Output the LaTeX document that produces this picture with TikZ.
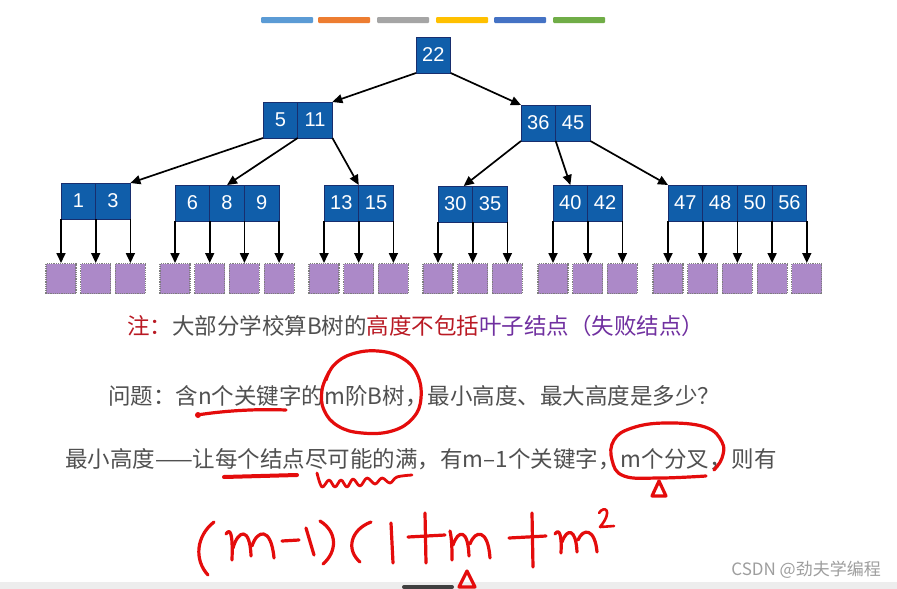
\documentclass[tikz,border=0pt]{standalone}
\usepackage{fontspec}
\usepackage{tikz}
\usetikzlibrary{arrows.meta, positioning}
\newfontfamily\cjk{Noto Sans CJK SC}
\newfontfamily\keyfont{Liberation Sans}
\definecolor{keyfill}{RGB}{16,94,170}
\definecolor{keyline}{RGB}{24,46,110}
\definecolor{leaffill}{RGB}{172,137,200}
\definecolor{leafline}{RGB}{125,125,125}
\definecolor{textcol}{RGB}{80,80,80}
\definecolor{notered}{RGB}{185,25,35}
\definecolor{notepurple}{RGB}{112,48,160}
\definecolor{inkcol}{RGB}{228,12,12}
\definecolor{barA}{RGB}{91,155,213}
\definecolor{barB}{RGB}{237,125,49}
\definecolor{barC}{RGB}{165,165,165}
\definecolor{barD}{RGB}{255,192,0}
\definecolor{barE}{RGB}{68,114,196}
\definecolor{barF}{RGB}{112,173,71}
\colorlet{markcol}{black!38}
\tikzset{
  keycell/.style={draw=keyline, fill=keyfill, text=white, line width=1pt,
    minimum width=34.7pt, minimum height=36pt, inner sep=0pt, outer sep=0pt,
    font=\keyfont\fontsize{20}{20}\selectfont},
  leaf/.style={draw=leafline, densely dotted, line width=1.2pt, fill=leaffill,
    minimum size=30pt, inner sep=0pt},
  arr/.style={-{Triangle[length=10pt, width=9pt]}, line width=1.7pt},
  txt/.style={font=\cjk\fontsize{22.5}{22.5}\selectfont, text=textcol,
    inner sep=0pt, anchor=west},
  ink/.style={draw=inkcol, line width=3.2pt, line cap=round, line join=round}
}

\begin{document}
\begin{tikzpicture}[x=1pt, y=-1pt, >=Stealth]

  % Page.
  \useasboundingbox (0,0) rectangle (897,589);
  \fill[white] (0,0) rectangle (897,589);
  \fill[black!7] (0,582) rectangle (897,589);
  \fill[black!75, rounded corners=2pt] (402,585) rectangle (454,589);

  % Colour bars on top.
  \foreach \col/\xa in {barA/261, barB/318, barC/377, barD/436, barE/494, barF/553}
    \fill[\col, rounded corners=1pt] (\xa,17) rectangle ++(52,6);

  % Root.
  \node[keycell, anchor=north west] (r) at (416,37) {22};

  % Second level.
  \node[keycell, anchor=north west] (a1) at (263,102) {5};
  \node[keycell, right=0pt of a1] (a2) {11};
  \node[keycell, anchor=north west] (b1) at (521,105) {36};
  \node[keycell, right=0pt of b1] (b2) {45};

  % Third level.
  \node[keycell, anchor=north west] (c1) at (61,183) {1};
  \node[keycell, right=0pt of c1] (c2) {3};
  \node[keycell, anchor=north west] (d1) at (175,185) {6};
  \node[keycell, right=0pt of d1] (d2) {8};
  \node[keycell, right=0pt of d2] (d3) {9};
  \node[keycell, anchor=north west] (e1) at (324,185) {13};
  \node[keycell, right=0pt of e1] (e2) {15};
  \node[keycell, anchor=north west] (f1) at (438,186) {30};
  \node[keycell, right=0pt of f1] (f2) {35};
  \node[keycell, anchor=north west] (g1) at (553,185) {40};
  \node[keycell, right=0pt of g1] (g2) {42};
  \node[keycell, anchor=north west] (h1) at (668,185) {47};
  \node[keycell, right=0pt of h1] (h2) {48};
  \node[keycell, right=0pt of h2] (h3) {50};
  \node[keycell, right=0pt of h3] (h4) {56};

  % Tree edges.
  \draw[arr] (r.south west) -- (a2.north east);
  \draw[arr] (r.south east) -- (b1.north west);
  \draw[arr] (a1.south west) -- (c2.north east);
  \draw[arr] (a1.south east) -- (d2.north);
  \draw[arr] (a2.south east) -- (e1.north east);
  \draw[arr] (b1.south west) -- ([xshift=-9pt]f1.north east);
  \draw[arr] (b1.south east) -- (g1.north);
  \draw[arr] (b2.south east) -- (h1.north west);

  % Leaves (failure nodes).
  \coordinate (leafrow) at (0,263);
  \foreach \c in {c1,c2,d1,d2,d3,e1,e2,f1,f2,g1,g2,h1,h2,h3,h4} {
    \node[leaf, anchor=north] (l\c) at (\c.south west |- leafrow) {};
    \draw[arr] (\c.south west) -- (l\c);
  }
  \foreach \c in {c2,d3,e2,f2,g2,h4} {
    \node[leaf, anchor=north] (l\c e) at (\c.south east |- leafrow) {};
    \draw[arr] (\c.south east) -- (l\c e);
  }

  % Text lines.
  \node[txt] (note) at (127,326) {\textcolor{notered}{注：}大部分学校算B树的\textcolor{notered}{高度不包括}\textcolor{notepurple}{叶子结点（失败结点）}};
  \node[txt] (question) at (108,396) {问题：含n个关键字的m阶B树，最小高度、最大高度是多少？};
  \node[txt] (minline) at (65,459) {最小高度——让每个结点尽可能的满，有m–1个关键字，m个分叉，则有};

  % Watermark.
  \node[font=\cjk\fontsize{17}{17}\selectfont, text=markcol, anchor=east, inner sep=0pt]
    (mark) at (881,570) {CSDN @劲夫学编程};

  % Red pen marks.
  \draw[ink] plot[smooth, tension=0.7] coordinates {(329,372) (322,390) (324,410)
    (338,426) (362,433) (392,431) (413,418) (421,398) (417,374) (402,358)
    (378,351) (352,354) (334,365) (326,380)};
  \draw[ink] (197,415) .. controls (230,410) and (260,409) .. (286,410);
  \fill[inkcol] (198,415) circle (3);
  \draw[ink, line width=4pt] (224,477) -- (297,475);
  \draw[ink, line width=2.8pt] plot[smooth, tension=0.6] coordinates {(317,473) (322,487)
    (329,480) (335,487) (341,480) (347,487) (353,479) (360,486) (367,478)
    (375,484) (382,478) (390,483) (397,477) (412,475)};
  \draw[ink] plot[smooth, tension=0.7] coordinates {(706,476) (660,478) (624,476)
    (612,460) (614,440) (632,428) (665,423) (705,427) (722,442) (722,458) (714,470)};
  \draw[ink] (652,496) -- (659,481) -- (666,496) -- cycle;

  % Handwritten formula.
  \draw[ink] (214,522) .. controls (196,536) and (194,560) .. (208,575);
  \draw[ink] (226,534) .. controls (230,528) and (233,532) .. (232,560);
  \draw[ink] (233,548) .. controls (238,530) and (250,526) .. (251,556);
  \draw[ink] (252,546) .. controls (257,530) and (271,526) .. (274,558);
  \draw[ink] (282,541) -- (299,540);
  \draw[ink] (306,528) -- (314,555);
  \draw[ink] (320,521) .. controls (338,532) and (337,552) .. (323,564);
  \draw[ink] (371,522) .. controls (350,530) and (346,550) .. (360,562);
  \draw[ink] (391,523) -- (393,563);
  \draw[ink] (408,537) -- (445,535);
  \draw[ink] (425,513) -- (426,563);
  \draw[ink] (450,531) .. controls (452,540) and (452,550) .. (452,560);
  \draw[ink] (453,545) .. controls (458,530) and (468,528) .. (469,556);
  \draw[ink] (470,544) .. controls (475,530) and (488,528) .. (490,558);
  \draw[ink] (459,587) -- (467,571) -- (475,587) -- cycle;
  \draw[ink] (509,538) -- (546,536);
  \draw[ink] (532,513) -- (533,567);
  \draw[ink] (555,534) .. controls (559,528) and (562,534) .. (561,553);
  \draw[ink] (562,542) .. controls (567,528) and (576,528) .. (577,552);
  \draw[ink] (578,540) .. controls (583,528) and (595,528) .. (597,552);
  \draw[ink, line width=2.6pt] (599,513) .. controls (604,505) and (614,510) .. (600,527) -- (614,526);

\end{tikzpicture}
\end{document}
